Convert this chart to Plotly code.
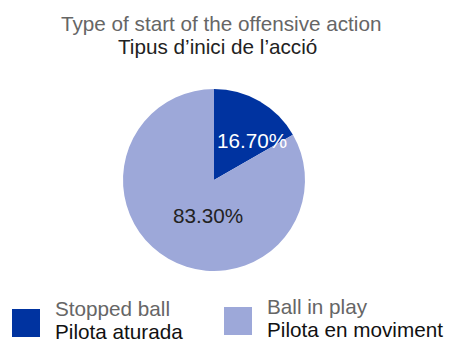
import plotly.graph_objects as go

title_en = "Type of start of the offensive action"
title_ca = "Tipus d\u2019inici de l\u2019acci\u00f3"
labels_en = ["Stopped ball", "Ball in play"]
labels_ca = ["Pilota aturada", "Pilota en moviment"]
values = [16.70, 83.30]
colors = ["#0033a0", "#9da8d9"]
text_colors = ["#ffffff", "#222222"]

FONT = "Liberation Sans, Arial, Helvetica, sans-serif"
FS = 20.7
W, H = 449, 342

cx, cy, r = 214, 180, 91
# label placement inside the pie (pixel offsets from the pie centre)
label_offsets = [(37.5, -40), (-6, 34)]

fig = go.Figure(go.Pie(
    labels=labels_ca,
    values=values,
    textinfo="none",
    marker=dict(colors=colors, line=dict(width=0)),
    sort=False,
    direction="clockwise",
    rotation=0,
    showlegend=False,
    hoverinfo="skip",
    domain=dict(x=[(cx - r) / W, (cx + r) / W], y=[1 - (cy + r) / H, 1 - (cy - r) / H]),
))

annotations = [
    dict(text=title_en, x=220.5 / W, y=1 - 23 / H, xref="paper", yref="paper",
         showarrow=False, font=dict(family=FONT, size=FS, color="#666666"),
         xanchor="center", yanchor="middle"),
    dict(text=title_ca, x=217 / W, y=1 - 46 / H, xref="paper", yref="paper",
         showarrow=False, font=dict(family=FONT, size=FS, color="#222222"),
         xanchor="center", yanchor="middle"),
]

for i, v in enumerate(values):
    dx, dy = label_offsets[i]
    annotations.append(dict(text=f"{v:.2f}%", x=(cx + dx) / W, y=1 - (cy + dy + 1) / H,
                            xref="paper", yref="paper", showarrow=False,
                            font=dict(family=FONT, size=FS, color=text_colors[i]),
                            xanchor="center", yanchor="middle"))

shapes = []
legend_pos = [(12, 309, 53), (224, 307, 265)]
for i, (sx, sy, tx) in enumerate(legend_pos):
    shapes.append(dict(type="rect", xref="paper", yref="paper",
                       x0=sx / W, x1=(sx + 28) / W, y0=1 - (sy + 28) / H, y1=1 - sy / H,
                       fillcolor=colors[i], line=dict(width=0)))
    annotations.append(dict(text=labels_en[i], x=tx / W, y=1 - (sy - 1) / H,
                            xref="paper", yref="paper", showarrow=False,
                            font=dict(family=FONT, size=FS, color="#666666"),
                            xanchor="left", yanchor="middle"))
    annotations.append(dict(text=labels_ca[i], x=tx / W, y=1 - (sy + 22) / H,
                            xref="paper", yref="paper", showarrow=False,
                            font=dict(family=FONT, size=FS, color="#111111"),
                            xanchor="left", yanchor="middle"))

fig.update_layout(
    width=W, height=H,
    margin=dict(l=0, r=0, t=0, b=0),
    paper_bgcolor="white",
    plot_bgcolor="white",
    annotations=annotations,
    shapes=shapes,
)

fig.write_html("out.html")
